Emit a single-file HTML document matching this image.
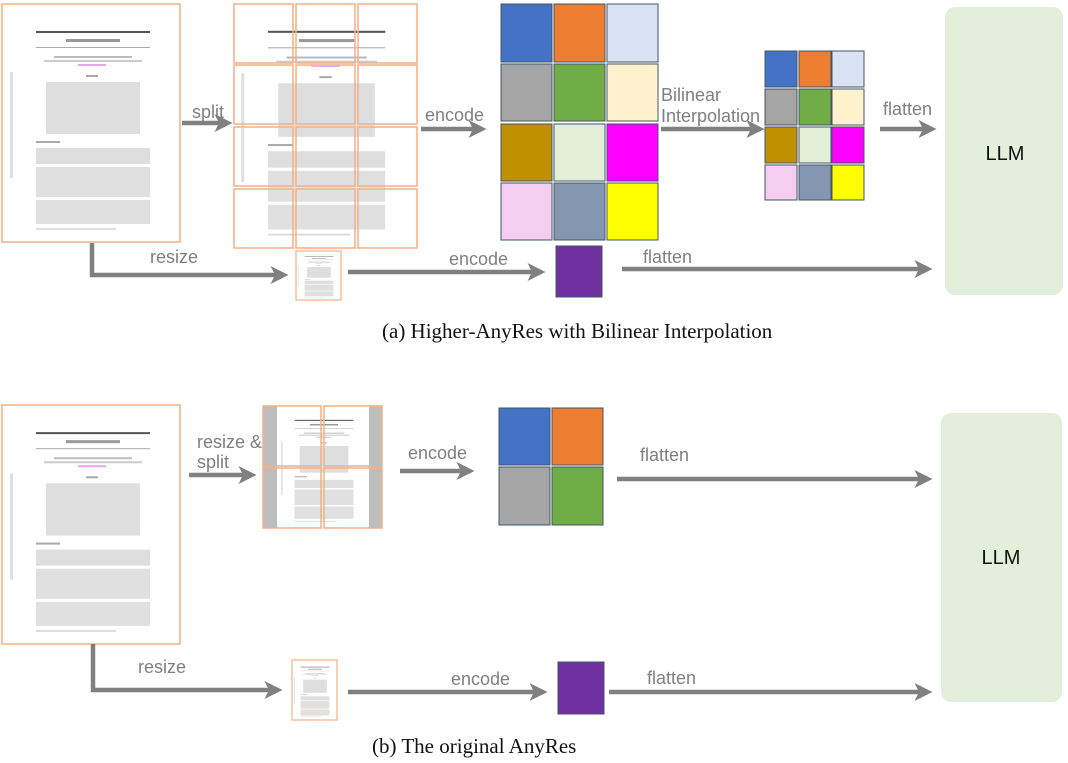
<!DOCTYPE html>
<html><head><meta charset="utf-8"><style>
body{margin:0;background:#fff;}
svg{display:block;font-family:"Liberation Sans",sans-serif;}
.lbl{fill:#7f7f7f;font-size:18px;}
.cap{font-family:"Liberation Serif",serif;font-size:21px;fill:#111;}
</style></head><body>
<svg width="1068" height="763" viewBox="0 0 1068 763" xmlns="http://www.w3.org/2000/svg">
<defs>
<marker id="ah" markerWidth="4" markerHeight="4" refX="3" refY="2" orient="auto" markerUnits="strokeWidth">
<path d="M0,0 L4,2 L0,4 L1,2 z" fill="#808080"/></marker>
<symbol id="doc" viewBox="0 0 178 238" preserveAspectRatio="none">
<rect x="34" y="27" width="114" height="2" fill="#555"/>
<rect x="64" y="35" width="54" height="3" fill="#999"/>
<rect x="34" y="43" width="114" height="1" fill="#aaa"/>
<rect x="52" y="52" width="78" height="2" fill="#bbb"/>
<rect x="42" y="56" width="98" height="2" fill="#ccc"/>
<rect x="76" y="60" width="28" height="2" fill="#e8a8e8"/>
<rect x="84" y="71" width="12" height="2" fill="#aaa"/>
<rect x="44" y="78" width="94" height="52" fill="#dedede"/>
<rect x="34" y="137" width="24" height="2" fill="#aaa"/>
<rect x="34" y="144" width="114" height="16" fill="#dedede"/>
<rect x="34" y="163" width="114" height="30" fill="#e0e0e0"/>
<rect x="34" y="196" width="114" height="24" fill="#e0e0e0"/>
<rect x="34" y="224" width="80" height="2" fill="#ddd"/>
<rect x="8" y="68" width="3" height="106" fill="#e0e0e0"/>
</symbol>
</defs>

<!-- (a) -->
<rect x="2" y="4" width="178" height="238" fill="#fff" stroke="#f4b183" stroke-width="1.5"/>
<use href="#doc" x="2" y="4" width="178" height="238"/>
<use href="#doc" x="233" y="3" width="183" height="245"/>
<g fill="none" stroke="#f4b183" stroke-width="1.5">
<rect x="234" y="4" width="59" height="59"/><rect x="296" y="4" width="59" height="59"/><rect x="358" y="4" width="59" height="59"/>
<rect x="234" y="65" width="59" height="59"/><rect x="296" y="65" width="59" height="59"/><rect x="358" y="65" width="59" height="59"/>
<rect x="234" y="127" width="59" height="59"/><rect x="296" y="127" width="59" height="59"/><rect x="358" y="127" width="59" height="59"/>
<rect x="234" y="189" width="59" height="59"/><rect x="296" y="189" width="59" height="59"/><rect x="358" y="189" width="59" height="59"/>
</g>
<rect x="296" y="251" width="45" height="49" fill="#fff" stroke="#f4b183" stroke-width="1.2"/>
<use href="#doc" x="296" y="251" width="45" height="49"/>

<g stroke="#808080" stroke-width="4.5" fill="none">
<line x1="182" y1="123" x2="228" y2="123" marker-end="url(#ah)"/>
<polyline points="92,243 92,275 284,275" marker-end="url(#ah)"/>
<line x1="421" y1="129" x2="482" y2="129" marker-end="url(#ah)"/>
<line x1="348" y1="272" x2="541" y2="272" marker-end="url(#ah)"/>
<line x1="661" y1="129" x2="760" y2="129" marker-end="url(#ah)"/>
<line x1="880" y1="129" x2="932" y2="129" marker-end="url(#ah)"/>
<line x1="622" y1="269" x2="928" y2="269" marker-end="url(#ah)"/>
</g>
<text class="lbl" x="192" y="118" font-size="21">split</text>
<text class="lbl" x="150" y="263" font-size="19">resize</text>
<text class="lbl" x="425" y="121" font-size="19">encode</text>
<text class="lbl" x="449" y="265">encode</text>
<text class="lbl" x="661" y="101" font-size="17">Bilinear</text>
<text class="lbl" x="661" y="122" font-size="17">Interpolation</text>
<text class="lbl" x="883" y="115" font-size="16">flatten</text>
<text class="lbl" x="643" y="263" font-size="16">flatten</text>

<g stroke="#44546a" stroke-width="1">
<rect x="501" y="4" width="51" height="58" fill="#4472c4"/><rect x="554" y="4" width="51" height="58" fill="#ed7d31"/><rect x="607" y="4" width="51" height="58" fill="#dae3f3"/>
<rect x="501" y="64" width="51" height="57" fill="#a5a5a5"/><rect x="554" y="64" width="51" height="57" fill="#70ad47"/><rect x="607" y="64" width="51" height="57" fill="#fff2cc"/>
<rect x="501" y="124" width="51" height="57" fill="#bf9000"/><rect x="554" y="124" width="51" height="57" fill="#e2f0d9"/><rect x="607" y="124" width="51" height="57" fill="#ff00ff"/>
<rect x="501" y="183" width="51" height="57" fill="#f4cdf0"/><rect x="554" y="183" width="51" height="57" fill="#8497b0"/><rect x="607" y="183" width="51" height="57" fill="#ffff00"/>
<rect x="765" y="51" width="32" height="36" fill="#4472c4"/><rect x="799" y="51" width="32" height="36" fill="#ed7d31"/><rect x="832" y="51" width="32" height="36" fill="#dae3f3"/>
<rect x="765" y="89" width="32" height="36" fill="#a5a5a5"/><rect x="799" y="89" width="32" height="36" fill="#70ad47"/><rect x="832" y="89" width="32" height="36" fill="#fff2cc"/>
<rect x="765" y="127" width="32" height="36" fill="#bf9000"/><rect x="799" y="127" width="32" height="36" fill="#e2f0d9"/><rect x="832" y="127" width="32" height="36" fill="#ff00ff"/>
<rect x="765" y="165" width="32" height="35" fill="#f4cdf0"/><rect x="799" y="165" width="32" height="35" fill="#8497b0"/><rect x="832" y="165" width="32" height="35" fill="#ffff00"/>
<rect x="556" y="246" width="46" height="51" fill="#7030a0"/>
</g>
<rect x="945" y="7" width="118" height="288" rx="10" fill="#e2efda"/>
<text x="1005" y="160" font-size="20" text-anchor="middle" fill="#111">LLM</text>
<text class="cap" x="382" y="338">(a) Higher-AnyRes with Bilinear Interpolation</text>

<!-- (b) -->
<rect x="2" y="405" width="178" height="239" fill="#fff" stroke="#f4b183" stroke-width="1.5"/>
<use href="#doc" x="2" y="405" width="178" height="239"/>
<rect x="263" y="406" width="14" height="122" fill="#bdbdbd"/>
<rect x="369" y="406" width="13" height="122" fill="#bdbdbd"/>
<use href="#doc" x="277" y="406" width="92" height="122"/>
<g fill="none" stroke="#f4b183" stroke-width="1.5">
<rect x="263" y="406" width="58" height="60"/><rect x="324" y="406" width="58" height="60"/>
<rect x="263" y="468" width="58" height="60"/><rect x="324" y="468" width="58" height="60"/>
</g>
<rect x="292" y="660" width="45" height="60" fill="#fff" stroke="#f4b183" stroke-width="1.2"/>
<use href="#doc" x="292" y="660" width="45" height="60"/>
<g stroke="#808080" stroke-width="4.5" fill="none">
<line x1="189" y1="475" x2="252" y2="475" marker-end="url(#ah)"/>
<line x1="400" y1="471" x2="470" y2="471" marker-end="url(#ah)"/>
<polyline points="93,644 93,690 278,690" marker-end="url(#ah)"/>
<line x1="348" y1="692" x2="543" y2="692" marker-end="url(#ah)"/>
<line x1="617" y1="479" x2="928" y2="479" marker-end="url(#ah)"/>
<line x1="609" y1="692" x2="928" y2="692" marker-end="url(#ah)"/>
</g>
<text class="lbl" x="197" y="448" font-size="20">resize &amp;</text>
<text class="lbl" x="197" y="468" font-size="20">split</text>
<text class="lbl" x="408" y="459" font-size="19">encode</text>
<text class="lbl" x="138" y="673" font-size="19">resize</text>
<text class="lbl" x="451" y="685">encode</text>
<text class="lbl" x="640" y="461" font-size="16">flatten</text>
<text class="lbl" x="647" y="684" font-size="16">flatten</text>
<g stroke="#44546a" stroke-width="1">
<rect x="499" y="408" width="51" height="57" fill="#4472c4"/><rect x="552" y="408" width="51" height="57" fill="#ed7d31"/>
<rect x="499" y="467" width="51" height="58" fill="#a5a5a5"/><rect x="552" y="467" width="51" height="58" fill="#70ad47"/>
<rect x="558" y="662" width="46" height="52" fill="#7030a0"/>
</g>
<rect x="941" y="413" width="121" height="289" rx="10" fill="#e2efda"/>
<text x="1001" y="564" font-size="20" text-anchor="middle" fill="#111">LLM</text>
<text class="cap" x="372" y="753">(b) The original AnyRes</text>
</svg>
</body></html>
